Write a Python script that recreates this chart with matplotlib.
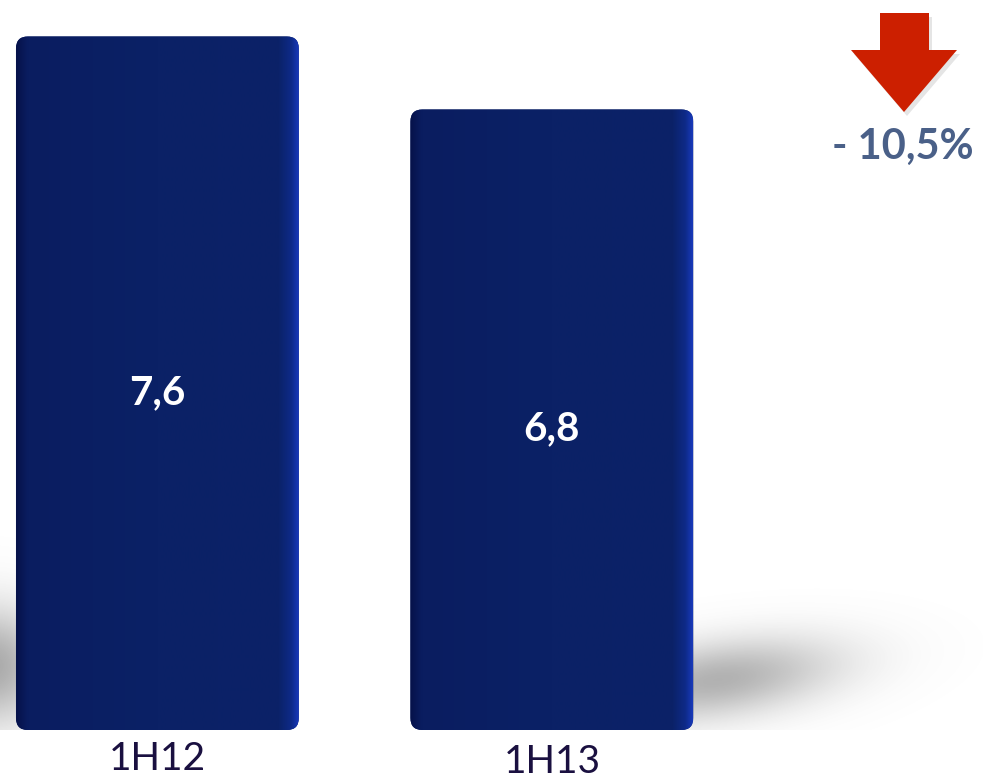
import numpy as np
import matplotlib
matplotlib.use("Agg")
import matplotlib.pyplot as plt
from matplotlib.patches import FancyBboxPatch, Polygon
from matplotlib.colors import LinearSegmentedColormap

categories = ["1H12", "1H13"]
values = [7.6, 6.8]
value_labels = ["7,6", "6,8"]
change_label = "- 10,5%"

W, H = 983, 780
fig = plt.figure(figsize=(W / 100, H / 100), dpi=100)
fig.patch.set_facecolor("white")

ax = fig.add_axes([0, 50 / H, 1, 730 / H])
ax.set_xlim(-0.399, 2.093)
ax.set_ylim(0, 8.0)
ax.axis("off")

x = np.arange(len(categories))
width = 0.717

# soft shadows (blurred gaussian blobs)
def shadow(cx, cy, sx, sy, alpha, skew=0.0):
    gx = np.linspace(cx - 4 * sx, cx + 4 * sx, 260)
    gy = np.linspace(cy - 4 * sy, cy + 4 * sy, 180)
    XX, YY = np.meshgrid(gx, gy)
    Z = np.exp(-(((XX - cx) - skew * (YY - cy)) ** 2) / (2 * sx ** 2) - ((YY - cy) ** 2) / (2 * sy ** 2))
    rgba = np.zeros(Z.shape + (4,))
    rgba[..., :3] = 0.45
    rgba[..., 3] = Z * alpha
    ax.imshow(rgba, extent=(gx[0], gx[-1], gy[0], gy[-1]), origin="lower",
              aspect="auto", zorder=1, interpolation="bilinear")

shadow(1.42, 0.55, 0.20, 0.32, 0.55, skew=0.25)
shadow(-0.42, 0.7, 0.10, 0.45, 0.6)

bars = ax.bar(x, values, width=width, color="none", zorder=2)

cmap = LinearSegmentedColormap.from_list(
    "navy", [(0.0, "#06124a"), (0.04, "#0a1d60"), (0.5, "#0b2166"),
             (0.93, "#0b2268"), (0.975, "#0e2a88"), (1.0, "#1838b8")])
grad = np.linspace(0, 1, 256).reshape(1, -1)

for b, lab in zip(bars, value_labels):
    bx, by, bw, bh = b.get_x(), b.get_y(), b.get_width(), b.get_height()
    patch = FancyBboxPatch((bx, by), bw, bh,
                           boxstyle="round,pad=0,rounding_size=0.03",
                           mutation_aspect=4.4,
                           facecolor="#0b2166", edgecolor="none", zorder=3)
    ax.add_patch(patch)
    im = ax.imshow(grad, extent=(bx, bx + bw, by, by + bh), cmap=cmap,
                   aspect="auto", zorder=4, interpolation="bilinear")
    im.set_clip_path(patch)
    ax.text(bx + bw / 2, bh / 2 - 0.1, lab, ha="center", va="center",
            color="white", fontsize=29, fontweight="bold", family="Lato", zorder=5)

# category labels
ax.text(x[0], -0.32, categories[0], ha="center", va="center", color="#1a1040",
        fontsize=28, family="Lato", zorder=5, clip_on=False)
ax.text(x[1], -0.35, categories[1], ha="center", va="center", color="#1a1040",
        fontsize=28, family="Lato", zorder=5, clip_on=False)

# red down arrow (figure pixel coordinates)
def px(xp, yp):
    return (xp / W, 1 - yp / H)

arrow_pts = [px(880, 13), px(929, 13), px(929, 50), px(957, 50),
             px(904, 112), px(851, 50), px(880, 50)]
shadow_pts = [(a + 3 / W, b - 4 / H) for a, b in arrow_pts]
fig.patches.append(Polygon(shadow_pts, closed=True, transform=fig.transFigure,
                           facecolor="#000000", alpha=0.10, edgecolor="none"))
fig.patches.append(Polygon(arrow_pts, closed=True, transform=fig.transFigure,
                           facecolor="#cc1f00", edgecolor="none"))

fig.text(903 / W, 1 - 147 / H, change_label, ha="center", va="center",
         color="#4a6088", fontsize=30, fontweight="bold", family="Lato")

fig.savefig("out.png", dpi=100, facecolor="white")
